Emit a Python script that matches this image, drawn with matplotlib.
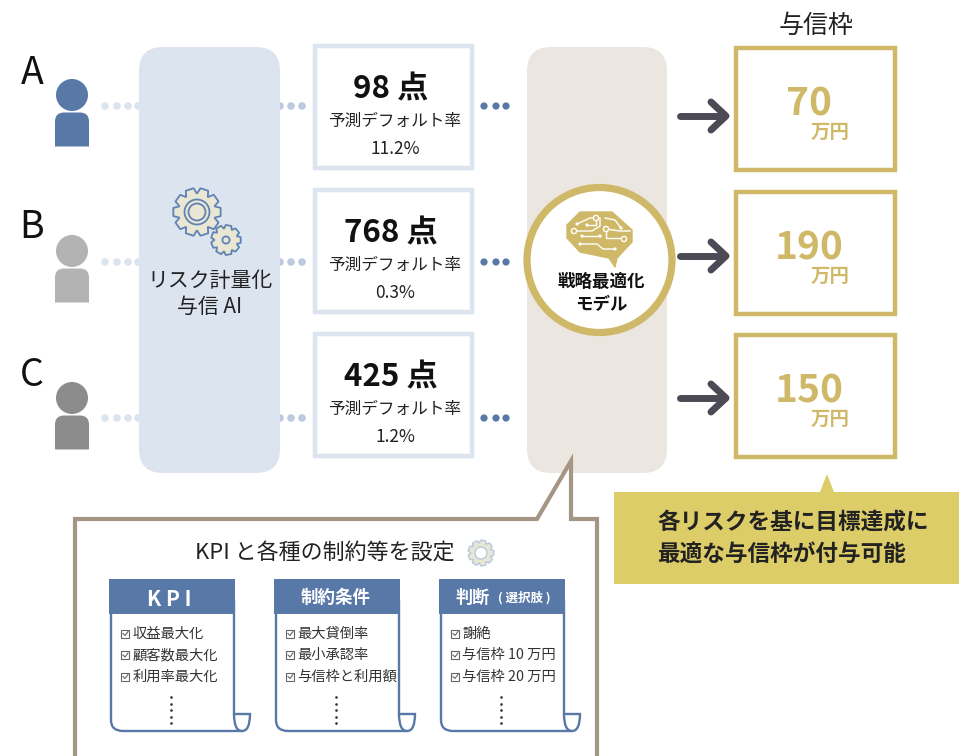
import matplotlib
matplotlib.use("Agg")
import matplotlib.pyplot as plt
import numpy as np
from matplotlib.patches import Circle, FancyBboxPatch, PathPatch, Polygon, Rectangle
from matplotlib.path import Path

plt.rcParams['font.family'] = ['Noto Sans CJK JP', 'DejaVu Sans']

customers = ["A", "B", "C"]
person_colors = ["#5878a8", "#b3b3b3", "#8c8c8c"]
scores = ["98 点", "768 点", "425 点"]
default_rates = ["11.2%", "0.3%", "1.2%"]
limits = ["70", "190", "150"]
sheet_titles = ["K P I", "制約条件", "判断"]
sheet_items = [
    ["収益最大化", "顧客数最大化", "利用率最大化"],
    ["最大貸倒率", "最小承認率", "与信枠と利用額"],
    ["謝絶", "与信枠 10 万円", "与信枠 20 万円"],
]

BLUE = "#5878a8"
PALE = "#dce4ef"
GOLD = "#cfb968"
DARK = "#222222"
BROWN = "#a59585"
ARROW = "#4b4a55"
YELLOW = "#ddcd68"

fig = plt.figure(figsize=(9.59, 7.56), dpi=100)
ax = fig.add_axes([0, 0, 1, 1])
ax.set_xlim(0, 959)
ax.set_ylim(756, 0)
ax.axis('off')


def rounded(x0, y0, x1, y1, r, color, zorder=1):
    ax.add_patch(FancyBboxPatch((x0 + r, y0 + r), x1 - x0 - 2 * r, y1 - y0 - 2 * r,
                                boxstyle="round,pad=%d,rounding_size=%d" % (r, r),
                                fc=color, ec="none", zorder=zorder))


def gear(cx, cy, r, teeth, face, edge, lw=1.3):
    # one tooth = 4 corner points round the circle
    step = 2 * np.pi / teeth
    pts = []
    for i in range(teeth):
        a = i * step
        for da, rr in [(-0.30, 0.78), (-0.17, 1.0), (0.17, 1.0), (0.30, 0.78)]:
            pts.append((cx + r * rr * np.cos(a + da * step * 1.6),
                        cy + r * rr * np.sin(a + da * step * 1.6)))
    ax.add_patch(Polygon(pts, closed=True, fc=face, ec=edge, lw=lw, joinstyle='round', zorder=4))


def person(y, color):
    ax.add_patch(Circle((72, y), 16, fc=color, ec="none", zorder=3))
    top = y + 17.5
    bottom = y + 51.5
    verts = [(55, bottom), (55, top + 9), (55, top), (64, top), (80, top),
             (89, top), (89, top + 9), (89, bottom), (55, bottom)]
    codes = [Path.MOVETO, Path.LINETO, Path.CURVE3, Path.CURVE3, Path.LINETO,
             Path.CURVE3, Path.CURVE3, Path.LINETO, Path.CLOSEPOLY]
    ax.add_patch(PathPatch(Path(verts, codes), fc=color, ec="none", zorder=3))


# the two tall panels
rounded(139, 47, 280, 473, 24, PALE)
rounded(527, 47, 667, 473, 24, "#ece6e0")

score_tops = [46, 190, 334]
limit_tops = [48, 192, 335]
row_y = [106, 262, 418]
head_y = [95, 251, 398]
label_y = [73, 228, 375]
arrow_y = [116, 256, 398]

for i in range(3):
    ax.text(32, label_y[i], customers[i], fontsize=27, color="#111111", ha='center', va='center')
    person(head_y[i], person_colors[i])

    for x in [105, 117, 128, 138]:
        ax.add_patch(Circle((x, row_y[i]), 3.8, fc=PALE, ec="none", zorder=0))
    for x in [280, 291, 302]:
        ax.add_patch(Circle((x, row_y[i]), 3.8, fc="#bccae0", ec="none", zorder=0))
    for x in [484, 496, 506]:
        ax.add_patch(Circle((x, row_y[i]), 3.6, fc=BLUE, ec="none", zorder=2))

    # score box
    t = score_tops[i]
    ax.add_patch(Rectangle((315, t), 157, 122, fc="white", ec=PALE, lw=3.2, zorder=2))
    ax.text(391, t + 43, scores[i], fontsize=22.5, fontweight='bold', color="#111111",
            ha='center', va='center', zorder=3)
    ax.text(395, t + 75, "予測デフォルト率", fontsize=12, color=DARK, ha='center', va='center', zorder=3)
    ax.text(395, t + 103, default_rates[i], fontsize=12.5, color=DARK, ha='center', va='center', zorder=3)

    # limit box
    t = limit_tops[i]
    ax.add_patch(Rectangle((736, t), 159, 122, fc="white", ec=GOLD, lw=3.2, zorder=2))
    ax.text(809, t + 56, limits[i], fontsize=28, fontweight='bold', color=GOLD,
            ha='center', va='center', zorder=3)
    ax.text(830, t + 84, "万円", fontsize=14, fontweight='bold', color=GOLD,
            ha='center', va='center', zorder=3)

    # arrow
    y = arrow_y[i]
    ax.plot([680, 724], [y, y], color=ARROW, lw=5, solid_capstyle='round', zorder=6)
    ax.plot([711, 726, 711], [y - 14, y, y + 14], color=ARROW, lw=5,
            solid_capstyle='round', solid_joinstyle='round', zorder=6)

ax.text(816, 26, "与信枠", fontsize=18, color=DARK, ha='center', va='center')

# risk AI panel contents
gear(197, 212, 24, 10, "#e9e6d3", "#5f83b5")
for r, fc in [(12.5, "#e9e6d3"), (8.5, "#e9e6d3")]:
    ax.add_patch(Circle((197, 212), r, fc=fc, ec="#5f83b5", lw=1.3, zorder=5))
gear(226, 240, 15, 9, "#e9e6d3", "#5f83b5")
ax.add_patch(Circle((226, 240), 3.6, fc="#e9e6d3", ec="#5f83b5", lw=1.3, zorder=5))
ax.text(210, 281, "リスク計量化", fontsize=15, color=DARK, ha='center', va='center')
ax.text(210, 307, "与信 AI", fontsize=15, color=DARK, ha='center', va='center')

# strategy circle with brain icon
ax.add_patch(Circle((599.5, 260), 72.5, fc="white", ec=GOLD, lw=5.2, zorder=5))
brain = [(580, 212), (612, 212), (632, 230), (632, 242), (617, 258), (615, 267), (609, 258),
         (580, 252), (567, 238), (567, 225)]
ax.add_patch(Polygon(brain, closed=True, fc=GOLD, ec=GOLD, lw=1, joinstyle='round', zorder=6))
circuits = [
    [(577, 224), (590, 218), (596, 218)],
    [(587, 225), (596, 225), (596, 218)],
    [(574, 231), (592, 231), (600, 226), (600, 218)],
    [(605, 218), (615, 220), (621, 228)],
    [(606, 229), (606, 238), (620, 238)],
    [(606, 229), (620, 231), (630, 231)],
    [(582, 236), (600, 236)],
    [(580, 244), (597, 244), (603, 249), (615, 249)],
]
for c in circuits:
    xs, ys = zip(*c)
    ax.plot(xs, ys, color="white", lw=1, zorder=7)
for p in [(577, 224), (587, 225), (582, 236), (580, 244), (615, 249), (621, 228), (600, 236)]:
    ax.add_patch(Circle(p, 1.6, fc="white", ec="none", zorder=7))
for p in [(596, 218), (574, 231), (606, 229), (624, 239)]:
    ax.add_patch(Circle(p, 2.6, fc=GOLD, ec="white", lw=1, zorder=8))
ax.text(601, 282, "戦略最適化", fontsize=12.6, fontweight='bold', color="#111111", ha='center', va='center', zorder=7)
ax.text(601, 305, "モデル", fontsize=12.6, fontweight='bold', color="#111111", ha='center', va='center', zorder=7)

# callout
callout = [(75, 760), (75, 519), (537, 519), (571, 461), (571, 519), (597, 519), (597, 760)]
ax.add_patch(Polygon(callout, closed=False, fc="white", ec=BROWN, lw=3.0, joinstyle='miter', zorder=1))
ax.text(325, 554, "KPI と各種の制約等を設定", fontsize=15.8, color=DARK, ha='center', va='center', zorder=3)
gear(481, 553, 13, 9, "#e9e6d3", "#b9c8df", lw=1)
ax.add_patch(Circle((481, 553), 6, fc="white", ec="#b9c8df", lw=1, zorder=5))

# yellow note
ax.add_patch(Rectangle((614, 492), 345, 92, fc=YELLOW, ec="none", zorder=2))
ax.add_patch(Polygon([(827, 474), (820, 492), (834, 492)], closed=True, fc=YELLOW, ec="none", zorder=2))
ax.text(657, 522, "各リスクを基に目標達成に", fontsize=16.3, fontweight='bold', color="#222222", va='center', zorder=3)
ax.text(657, 554, "最適な与信枠が付与可能", fontsize=16.3, fontweight='bold', color="#222222", va='center', zorder=3)

# the three scroll sheets
for j in range(3):
    x0 = 110 + j * 165
    x1 = x0 + 124
    verts = [(x0 + 1, 600), (x0 + 1, 720), (x0 + 1, 731), (x0 + 13, 731), (x1 + 8, 731),
             (x1 + 16, 731), (x1 + 16, 714), (x1, 714),
             (x1, 600)]
    codes = [Path.MOVETO, Path.LINETO, Path.CURVE3, Path.CURVE3, Path.LINETO,
             Path.CURVE3, Path.CURVE3, Path.LINETO, Path.LINETO]
    ax.add_patch(PathPatch(Path(verts, codes), fc="none", ec=BLUE, lw=1.7, zorder=3))
    curl = [(x1, 714), (x1, 731), (x1 + 8, 731)]
    ax.add_patch(PathPatch(Path(curl, [Path.MOVETO, Path.CURVE3, Path.CURVE3]), fc="none", ec=BLUE, lw=1.7, zorder=3))
    ax.add_patch(Rectangle((x0 - 1, 579), 126, 35, fc=BLUE, ec="none", zorder=4))
    xc = (x0 + x1) / 2
    if j == 0:
        ax.text(xc - 3, 599, sheet_titles[j], fontsize=15, fontweight='bold', color="white",
                ha='center', va='center', zorder=5)
    elif j == 1:
        ax.text(xc - 1, 598, sheet_titles[j], fontsize=12.6, fontweight='bold', color="white",
                ha='center', va='center', zorder=5)
    else:
        ax.text(xc - 29, 598, sheet_titles[j], fontsize=12.3, fontweight='bold', color="white",
                ha='center', va='center', zorder=5)
        ax.text(xc + 22, 598, "( 選択肢 )", fontsize=9, fontweight='bold', color="white",
                ha='center', va='center', zorder=5)
    for k, item in enumerate(sheet_items[j]):
        y = 633.5 + k * 21.5
        ax.add_patch(Rectangle((x0 + 11, y - 4), 8, 8, fc="none", ec="#666666", lw=0.8, zorder=5))
        ax.plot([x0 + 13, x0 + 15, x0 + 18], [y, y + 2, y - 2], color="#666666", lw=0.8, zorder=5)
        ax.text(x0 + 22.5, y, item, fontsize=10.3, color="#333333", va='center', zorder=5)
    ax.plot([x0 + 60.5] * 5, [697, 703.5, 710, 716.5, 723], ls='none', marker='o', ms=1.9, mew=0,
            color="#333333", zorder=5)

fig.savefig("out.png", dpi=100)
